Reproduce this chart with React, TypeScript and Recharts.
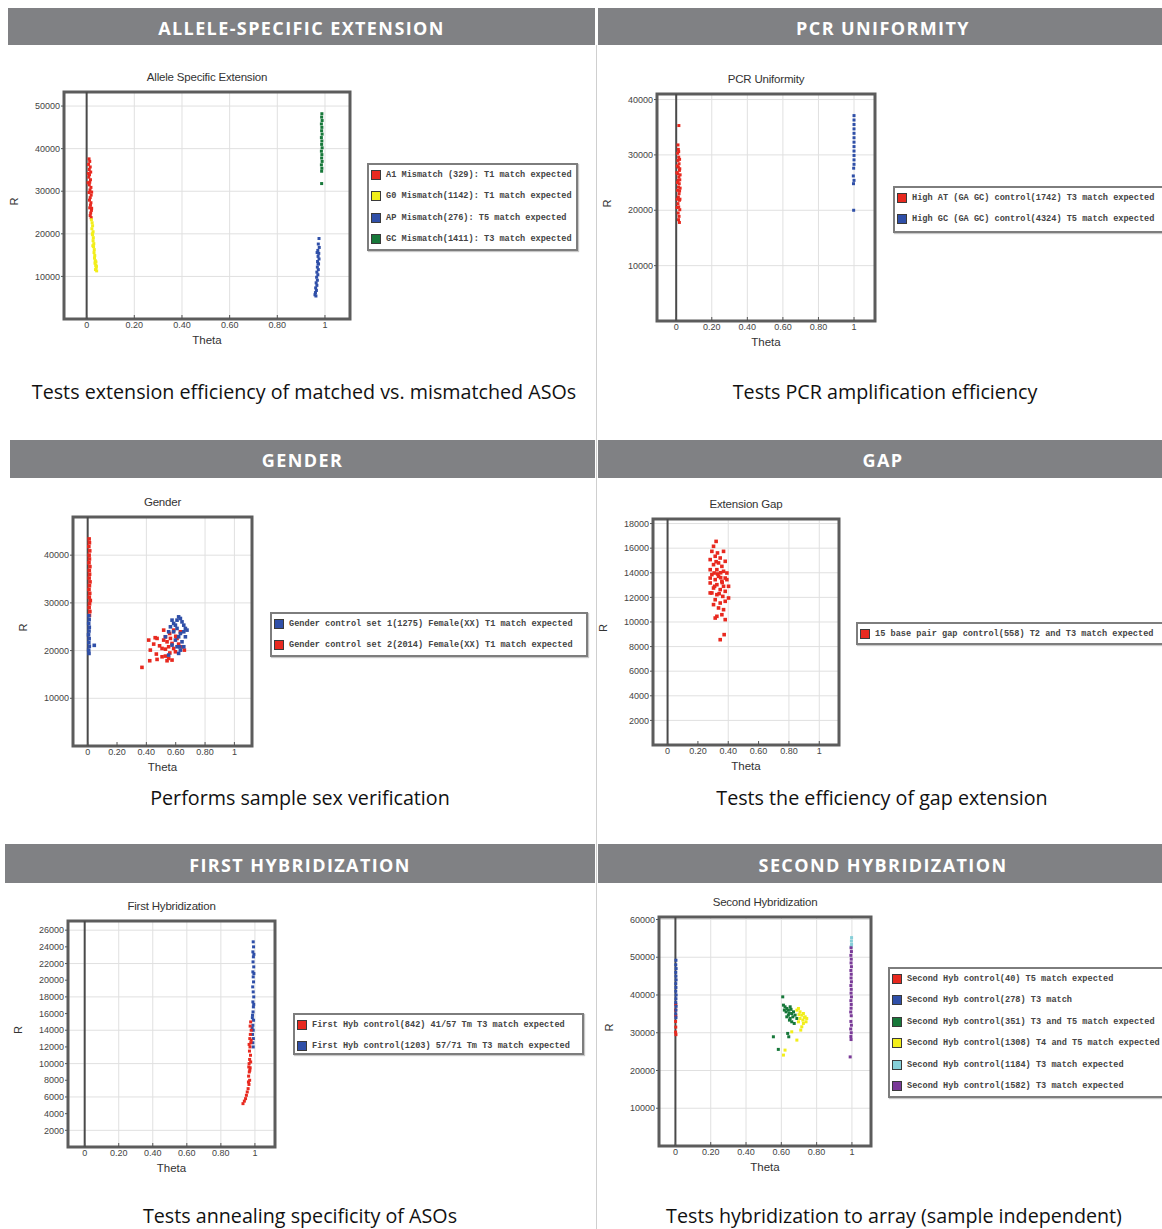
import React from 'react';
import { ScatterChart, Scatter, XAxis, YAxis, CartesianGrid, ReferenceLine, ReferenceArea } from 'recharts';

type Pt = [number, number];

// ---------- text ----------
const headerTitles = ['ALLELE-SPECIFIC EXTENSION', 'PCR UNIFORMITY', 'GENDER', 'GAP', 'FIRST HYBRIDIZATION', 'SECOND HYBRIDIZATION'];
const captions = [
  'Tests extension efficiency of matched vs. mismatched ASOs',
  'Tests PCR amplification efficiency',
  'Performs sample sex verification',
  'Tests the efficiency of gap extension',
  'Tests annealing specificity of ASOs',
  'Tests hybridization to array (sample independent)',
];
const chartTitles = ['Allele Specific Extension', 'PCR Uniformity', 'Gender', 'Extension Gap', 'First Hybridization', 'Second Hybridization'];

const xTicks = [0, 0.2, 0.4, 0.6, 0.8, 1];
const xTickLabels = ['0', '0.20', '0.40', '0.60', '0.80', '1'];

// ---------- Allele specific extension ----------
const aseTicks = [10000, 20000, 30000, 40000, 50000];
const aseRed: Pt[] = [[0.010,37600],[0.013,37000],[0.008,36300],[0.015,35700],[0.011,35100],[0.017,34500],[0.012,33900],[0.009,33300],[0.016,32700],[0.013,32100],[0.011,31500],[0.018,30900],[0.014,30300],[0.010,29700],[0.019,29100],[0.015,28500],[0.012,27900],[0.018,27300],[0.016,26700],[0.013,26100],[0.020,25500],[0.017,24900],[0.015,24300],[0.019,23800],[0.021,26000],[0.021,29800],[0.006,32000],[0.007,34200]];
const aseYellow: Pt[] = [[0.020,23300],[0.023,22600],[0.025,21900],[0.022,21200],[0.027,20500],[0.025,19800],[0.028,19100],[0.027,18400],[0.030,17700],[0.029,17000],[0.032,16300],[0.031,15600],[0.034,14900],[0.033,14300],[0.036,13700],[0.035,13100],[0.038,12600],[0.040,12100],[0.037,11600],[0.042,11300],[0.041,12400],[0.039,13400],[0.026,17200],[0.024,20000]];
const aseBlue: Pt[] = [[0.975,18900],[0.972,17600],[0.976,16800],[0.970,16100],[0.974,15400],[0.971,14700],[0.975,14100],[0.969,13500],[0.973,12900],[0.968,12200],[0.972,11600],[0.966,11000],[0.970,10400],[0.965,9800],[0.968,9100],[0.963,8500],[0.966,7900],[0.961,7300],[0.964,6700],[0.960,6200],[0.958,5700],[0.962,5400],[0.967,15600],[0.971,13000]];
const aseGreen: Pt[] = [[0.987,48200],[0.986,47400],[0.988,46600],[0.985,45800],[0.987,45000],[0.986,44200],[0.988,43400],[0.985,42600],[0.987,41800],[0.986,41000],[0.988,40200],[0.985,39400],[0.987,38600],[0.986,37800],[0.988,37000],[0.985,36200],[0.987,35400],[0.986,34700],[0.986,31800]];
const aseNames = ['A1 Mismatch (329): T1 match expected', 'G0 Mismatch(1142): T1 match expected', 'AP Mismatch(276): T5 match expected', 'GC Mismatch(1411): T3 match expected'];

// ---------- PCR uniformity ----------
const pcrTicks = [10000, 20000, 30000, 40000];
const pcrRed: Pt[] = [[0.015,35300],[0.010,31800],[0.012,31000],[0.008,30300],[0.014,29600],[0.010,29000],[0.016,28400],[0.012,27800],[0.018,27200],[0.009,26600],[0.015,26000],[0.011,25400],[0.017,24800],[0.013,24200],[0.008,23600],[0.016,23000],[0.012,22400],[0.018,21800],[0.010,21200],[0.014,20600],[0.020,20100],[0.011,19500],[0.016,18900],[0.013,18300],[0.018,17800],[0.020,27500],[0.020,25500],[0.019,23500],[0.021,22000],[0.006,28000],[0.007,25000],[0.006,22000],[0.014,30600],[0.019,29200],[0.022,26400],[0.022,24000],[0.004,26800],[0.005,20500]];
const pcrBlue: Pt[] = [[1.000,37100],[1.000,36300],[1.000,35500],[1.000,34700],[1.000,33900],[1.000,33100],[1.000,32300],[1.000,31500],[1.000,30700],[1.000,29900],[1.000,29100],[1.000,28300],[0.998,27600],[0.996,26200],[1.000,25400],[0.997,24800],[0.998,20000]];
const pcrNames = ['High AT (GA GC) control(1742) T3 match expected', 'High GC (GA GC) control(4324) T5 match expected'];

// ---------- Gender ----------
const genTicks = [10000, 20000, 30000, 40000];
const genderBlue: Pt[] = [[0.008,27300],[0.010,26500],[0.007,25700],[0.011,24900],[0.009,24100],[0.006,23300],[0.010,22500],[0.008,21700],[0.011,20900],[0.007,20100],[0.009,19400],[0.045,21100],
  [0.530,22890],[0.552,23940],[0.564,24980],[0.586,25690],[0.609,26380],[0.620,27070],[0.632,26730],[0.643,26020],[0.655,25330],[0.666,24640],[0.609,24640],[0.586,23940],[0.632,23590],[0.655,23940],[0.620,22890],[0.598,22200],[0.575,21150],[0.609,20800],[0.632,20100],[0.620,19410],[0.552,19060],[0.643,21840],[0.666,22890],[0.677,24290],[0.598,25330],[0.575,26380],[0.627,20800],[0.655,20800]];
const genderRed: Pt[] = [[0.010,43400],[0.012,42600],[0.008,41800],[0.014,40900],[0.010,40000],[0.012,39200],[0.009,38400],[0.015,37600],[0.011,36800],[0.013,36000],[0.010,35200],[0.016,34400],[0.012,33600],[0.009,32800],[0.014,32000],[0.011,31200],[0.018,30500],[0.013,29800],[0.010,29000],[0.015,28200],[0.012,27400],
  [0.416,22200],[0.450,21360],[0.473,22550],[0.507,20450],[0.518,22200],[0.530,22890],[0.541,21840],[0.552,20800],[0.564,22550],[0.575,21500],[0.586,20450],[0.609,22550],[0.620,21360],[0.643,20800],[0.659,20100],[0.427,20100],[0.468,19270],[0.507,18700],[0.530,18850],[0.552,18360],[0.575,18010],[0.541,17870],[0.473,18150],[0.423,17870],[0.370,16480],[0.518,24290],[0.586,24290],[0.632,23940],[0.559,23590],[0.598,19750],[0.490,21000],[0.530,20300],[0.560,19500],[0.460,22700],[0.600,23000]];
const genderNames = ['Gender control set 1(1275) Female(XX) T1 match expected', 'Gender control set 2(2014) Female(XX) T1 match expected'];

// ---------- Extension gap ----------
const gapTicks = [2000, 4000, 6000, 8000, 10000, 12000, 14000, 16000, 18000];
const gapRed: Pt[] = [[0.320,16550],[0.303,16150],[0.292,15740],[0.329,15610],[0.314,15340],[0.281,15070],[0.347,15200],[0.369,15740],[0.336,14800],[0.303,14660],[0.358,14520],[0.380,14930],[0.281,14250],[0.325,14250],[0.369,14120],[0.391,13980],[0.292,13850],[0.336,13710],[0.380,13570],[0.314,13440],[0.358,13300],[0.281,13170],[0.325,13030],[0.369,12900],[0.402,12900],[0.303,12760],[0.347,12630],[0.380,12490],[0.281,12360],[0.325,12220],[0.364,12080],[0.402,11950],[0.314,11810],[0.347,11540],[0.380,11680],[0.303,11410],[0.336,11140],[0.369,11000],[0.325,10460],[0.358,10590],[0.314,10320],[0.380,10190],[0.373,8970],[0.347,8560],[0.292,12360],[0.391,13440],[0.281,13570],[0.307,13980],[0.330,13900],[0.350,13600],[0.310,12900],[0.340,12300],[0.360,13200],[0.320,14900],[0.350,14000]];
const gapNames = ['15 base pair gap control(558) T2 and T3 match expected'];

// ---------- First hybridization ----------
const fhTicks = [2000, 4000, 6000, 8000, 10000, 12000, 14000, 16000, 18000, 20000, 22000, 24000, 26000];
const fhRed: Pt[] = [[0.975,15000],[0.972,14500],[0.978,14000],[0.973,13500],[0.970,13000],[0.976,12500],[0.971,12000],[0.968,11500],[0.974,11000],[0.969,10500],[0.966,10000],[0.972,9500],[0.967,9000],[0.963,8500],[0.969,8000],[0.965,7500],[0.960,7000],[0.955,6600],[0.950,6200],[0.945,5800],[0.938,5500],[0.930,5200],[0.962,7800],[0.970,9200],[0.978,12800],[0.966,12300],[0.975,10200],[0.964,9600]];
const fhBlue: Pt[] = [[0.990,24600],[0.992,24000],[0.988,23400],[0.991,22800],[0.989,22200],[0.993,21600],[0.988,21000],[0.990,20400],[0.992,19800],[0.987,19200],[0.990,18600],[0.993,18000],[0.988,17400],[0.991,16800],[0.989,16200],[0.986,15800],[0.992,15200],[0.988,14600],[0.990,14000],[0.986,13500],[0.991,13000],[0.988,12500],[0.990,12000],[0.984,14300],[0.985,15500],[0.994,23100],[0.994,20800],[0.993,17100]];
const fhNames = ['First Hyb control(842) 41/57 Tm T3 match expected', 'First Hyb control(1203) 57/71 Tm T3 match expected'];

// ---------- Second hybridization ----------
const shTicks = [10000, 20000, 30000, 40000, 50000, 60000];
const shRed: Pt[] = [[0.002,37500],[0.001,36000],[0.002,34500],[0.001,33000],[0.002,31500],[0.001,30200],[0.003,29500]];
const shBlue: Pt[] = [[0.003,49200],[0.002,48000],[0.004,47000],[0.002,46000],[0.003,45000],[0.004,44000],[0.002,43000],[0.003,42000],[0.002,41000],[0.004,40000],[0.003,39000],[0.002,38000],[0.004,37000],[0.003,36000],[0.002,35000],[0.003,34000]];
const shGreen: Pt[] = [[0.608,39510],[0.612,37310],[0.621,36870],[0.631,36430],[0.640,35990],[0.650,36870],[0.627,35540],[0.640,34660],[0.659,35100],[0.669,35540],[0.650,33780],[0.665,34220],[0.678,34660],[0.631,34220],[0.688,33780],[0.659,32900],[0.646,33340],[0.673,32460],[0.636,29820],[0.642,28930],[0.555,28930],[0.583,25590],[0.617,36000],[0.655,36200],[0.645,35200]];
const shYellow: Pt[] = [[0.697,36430],[0.706,35540],[0.716,34660],[0.725,35100],[0.735,34220],[0.706,33780],[0.722,33340],[0.744,33780],[0.697,32900],[0.725,32460],[0.740,32900],[0.716,31580],[0.710,30700],[0.688,28050],[0.659,30250],[0.621,25400],[0.612,24080],[0.688,35990],[0.730,34000],[0.700,34800]];
const shCyan: Pt[] = [[0.998,55200],[0.997,54300],[0.998,53400],[0.996,52800]];
const shPurple: Pt[] = [[0.995,52500],[0.997,51500],[0.994,50500],[0.996,49500],[0.995,48500],[0.997,47500],[0.994,46500],[0.996,45500],[0.995,44500],[0.997,43500],[0.994,42500],[0.996,41500],[0.995,40500],[0.997,39500],[0.994,38500],[0.996,37500],[0.995,36500],[0.993,35500],[0.996,34500],[0.994,33000],[0.997,32000],[0.993,31000],[0.996,30000],[0.994,29000],[0.995,28200],[0.990,23600]];
const shNames = ['Second Hyb control(40) T5 match expected', 'Second Hyb control(278) T3 match', 'Second Hyb control(351) T3 and T5 match expected', 'Second Hyb control(1308) T4 and T5 match expected', 'Second Hyb control(1184) T3 match expected', 'Second Hyb control(1582) T3 match expected'];

// ---------- colours ----------
const RED = '#e8291f';
const YELLOW = '#f2ee1a';
const BLUE = '#2f4fa8';
const GREEN = '#17783a';
const CYAN = '#86cfd8';
const PURPLE = '#7a3a98';

interface Series { name: string; color: string; data: Pt[] }
interface PanelCfg {
  title: string;
  frame: [number, number, number, number];
  xDomain: [number, number];
  yDomain: [number, number];
  yTicks: number[];
  series: Series[];
  draw: number[];
  dot: number;
  legend: { left: number; top: number; width: number; height: number };
}

const panels: PanelCfg[] = [
  {
    title: chartTitles[0], frame: [64, 92, 350, 319], xDomain: [-0.095, 1.105], yDomain: [0, 53300], yTicks: aseTicks,
    series: [
      { name: aseNames[0], color: RED, data: aseRed },
      { name: aseNames[1], color: YELLOW, data: aseYellow },
      { name: aseNames[2], color: BLUE, data: aseBlue },
      { name: aseNames[3], color: GREEN, data: aseGreen },
    ], draw: [0, 1, 2, 3], dot: 3,
    legend: { left: 367, top: 163, width: 211, height: 88 },
  },
  {
    title: chartTitles[1], frame: [657, 94, 875, 321], xDomain: [-0.108, 1.118], yDomain: [0, 41000], yTicks: pcrTicks,
    series: [
      { name: pcrNames[0], color: RED, data: pcrRed },
      { name: pcrNames[1], color: BLUE, data: pcrBlue },
    ], draw: [0, 1], dot: 3,
    legend: { left: 893, top: 186, width: 300, height: 47 },
  },
  {
    title: chartTitles[2], frame: [73, 517, 252, 746], xDomain: [-0.1, 1.12], yDomain: [0, 48000], yTicks: genTicks,
    series: [
      { name: genderNames[0], color: BLUE, data: genderBlue },
      { name: genderNames[1], color: RED, data: genderRed },
    ], draw: [1, 0], dot: 3.6,
    legend: { left: 270, top: 612, width: 318, height: 45 },
  },
  {
    title: chartTitles[3], frame: [653, 519, 839, 745], xDomain: [-0.096, 1.13], yDomain: [0, 18370], yTicks: gapTicks,
    series: [{ name: gapNames[0], color: RED, data: gapRed }], draw: [0], dot: 3.6,
    legend: { left: 856, top: 622, width: 330, height: 23 },
  },
  {
    title: chartTitles[4], frame: [68, 921, 275, 1147], xDomain: [-0.098, 1.118], yDomain: [0, 27100], yTicks: fhTicks,
    series: [
      { name: fhNames[0], color: RED, data: fhRed },
      { name: fhNames[1], color: BLUE, data: fhBlue },
    ], draw: [1, 0], dot: 3,
    legend: { left: 293, top: 1013, width: 291, height: 42 },
  },
  {
    title: chartTitles[5], frame: [659, 917, 871, 1146], xDomain: [-0.093, 1.108], yDomain: [0, 60660], yTicks: shTicks,
    series: [
      { name: shNames[0], color: RED, data: shRed },
      { name: shNames[1], color: BLUE, data: shBlue },
      { name: shNames[2], color: GREEN, data: shGreen },
      { name: shNames[3], color: YELLOW, data: shYellow },
      { name: shNames[4], color: CYAN, data: shCyan },
      { name: shNames[5], color: PURPLE, data: shPurple },
    ], draw: [0, 1, 2, 3, 4, 5], dot: 3,
    legend: { left: 888, top: 967, width: 300, height: 131 },
  },
];

const headerBoxes = [
  { left: 8, top: 8, width: 587, height: 37 },
  { left: 598, top: 8, width: 570, height: 37 },
  { left: 10, top: 440, width: 585, height: 38 },
  { left: 598, top: 440, width: 570, height: 38 },
  { left: 5, top: 844, width: 590, height: 39 },
  { left: 598, top: 844, width: 570, height: 39 },
];
const captionPos = [
  { cx: 304, cy: 392 }, { cx: 885, cy: 392 },
  { cx: 300, cy: 798 }, { cx: 882, cy: 798 },
  { cx: 300, cy: 1216 }, { cx: 894, cy: 1216 },
];

const CHART_FONT = '"Liberation Sans", Arial, sans-serif';

function LegendBox({ cfg }: { cfg: PanelCfg }) {
  const b = cfg.legend;
  return (
    <div style={{ position: 'absolute', left: b.left, top: b.top, width: b.width, height: b.height, border: '2px solid #7d7d7d', background: '#fff', boxSizing: 'border-box', boxShadow: '1px 1px 1px #c8c8c8' }}>
      {cfg.series.map((s, i) => (
        <div key={i} style={{ position: 'absolute', left: 2, top: i * 21.4, height: 20, display: 'flex', alignItems: 'center', whiteSpace: 'nowrap' }}>
          <span style={{ display: 'inline-block', width: 10, height: 10, background: s.color, border: '1px solid #3a3a3a', boxSizing: 'border-box', marginRight: 5 }} />
          <span style={{ font: 'bold 8.6px "Liberation Mono", "DejaVu Sans Mono", monospace', color: '#444' }}>{s.name}</span>
        </div>
      ))}
    </div>
  );
}

function Panel({ cfg }: { cfg: PanelCfg }) {
  const ML = 60, MT = 26, MR = 6, MB = 32;
  const [x0, y0, x1, y1] = cfg.frame;
  const fw = x1 - x0, fh = y1 - y0;
  const width = fw + ML + MR, height = fh + MT + MB;
  const tickStyle = { fontSize: 9, fill: '#444', fontFamily: CHART_FONT };
  return (
    <>
      <div style={{ position: 'absolute', left: x0 - 20, width: fw + 40, top: y0 - 21, textAlign: 'center', font: `11.5px ${CHART_FONT}`, color: '#333', letterSpacing: -0.2 }}>{cfg.title}</div>
      <div style={{ position: 'absolute', left: x0 - ML, top: y0 - MT, width, height }}>
        <ScatterChart width={width} height={height} margin={{ top: MT, right: MR, left: 0, bottom: 0 }}>
          <CartesianGrid stroke="#e0e0e0" strokeWidth={1} />
          <XAxis type="number" dataKey="x" domain={cfg.xDomain} ticks={xTicks} allowDataOverflow height={MB}
            tickFormatter={(v: number) => xTickLabels[xTicks.indexOf(v)] ?? String(v)}
            tick={tickStyle} axisLine={false} tickSize={-4} tickMargin={7} tickLine={{ stroke: '#555' }}
            label={{ value: 'Theta', position: 'insideBottom', offset: 7, style: { fontSize: 11.5, fill: '#333', fontFamily: CHART_FONT } }} />
          <YAxis type="number" dataKey="y" domain={cfg.yDomain} ticks={cfg.yTicks} allowDataOverflow width={ML}
            tick={tickStyle} axisLine={false} tickSize={3} tickMargin={1} tickLine={{ stroke: '#555' }}
            label={{ value: 'R', angle: -90, position: 'insideLeft', offset: 10, style: { fontSize: 11, fill: '#333', fontFamily: CHART_FONT } }} />
          <ReferenceLine x={0} stroke="#4a4a4a" strokeWidth={2} />
          {cfg.draw.map((i) => {
            const s = cfg.series[i];
            const d = cfg.dot;
            return (
              <Scatter key={i} name={s.name} data={s.data.map(([x, y]) => ({ x, y }))} fill={s.color} isAnimationActive={false}
                shape={(p: any) => <rect x={p.cx - d / 2} y={p.cy - d / 2} width={d} height={d} fill={s.color} />} />
            );
          })}
          <ReferenceArea x1={cfg.xDomain[0]} x2={cfg.xDomain[1]} y1={cfg.yDomain[0]} y2={cfg.yDomain[1]} fill="none" fillOpacity={0} stroke="#5c5c5c" strokeWidth={3} />
        </ScatterChart>
      </div>
      <LegendBox cfg={cfg} />
    </>
  );
}

export default function App() {
  return (
    <div style={{ position: 'absolute', left: 0, top: 0, width: 1162, height: 1229, overflow: 'hidden', background: '#fff' }}>
      <div style={{ position: 'absolute', left: 596, top: 45, width: 1, height: 1184, background: '#cfcfcf' }} />
      {headerBoxes.map((b, i) => (
        <div key={i} style={{ position: 'absolute', ...b, background: '#808184', color: '#fff', display: 'flex', alignItems: 'center', justifyContent: 'center', font: 'bold 18px "Open Sans", sans-serif', letterSpacing: 1.4, paddingTop: 2, boxSizing: 'border-box' }}>
          {headerTitles[i]}
        </div>
      ))}
      {captionPos.map((c, i) => (
        <div key={i} style={{ position: 'absolute', left: c.cx - 300, width: 600, top: c.cy - 14, height: 28, lineHeight: '28px', textAlign: 'center', font: '19.7px "Open Sans", sans-serif', color: '#111' }}>
          {captions[i]}
        </div>
      ))}
      {panels.map((p, i) => <Panel key={i} cfg={p} />)}
    </div>
  );
}
